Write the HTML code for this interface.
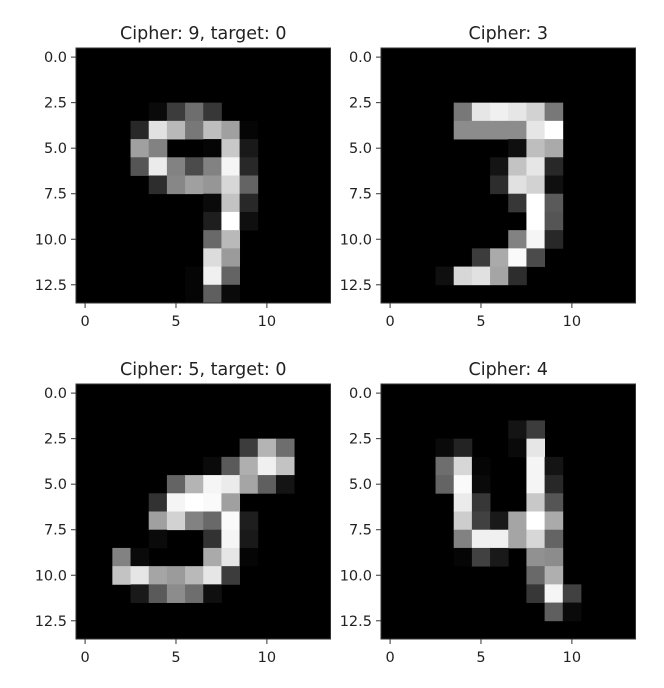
<!DOCTYPE html>
<html><head><meta charset="utf-8"><style>
body{margin:0;background:#fff}
svg{display:block}
text{font-family:"DejaVu Sans","Liberation Sans",sans-serif;fill:#222}
</style></head><body>
<svg id="fig" width="664" height="688" viewBox="0 0 664 688"></svg>
<script>
const titles = ["Cipher: 9, target: 0","Cipher: 3","Cipher: 5, target: 0","Cipher: 4"];
const yTicks = [0,2.5,5,7.5,10,12.5];
const yTickLabels = ["0.0","2.5","5.0","7.5","10.0","12.5"];
const xTicks = [0,5,10];
const xTickLabels = ["0","5","10"];
// sparse pixels: [row, col, value]
const img9 = [[3,4,10],[3,5,60],[3,6,110],[3,7,55],
[4,3,40],[4,4,225],[4,5,185],[4,6,120],[4,7,190],[4,8,160],[4,9,5],
[5,3,160],[5,4,130],[5,7,5],[5,8,200],[5,9,25],
[6,3,85],[6,4,235],[6,5,130],[6,6,75],[6,7,130],[6,8,245],[6,9,40],
[7,4,45],[7,5,135],[7,6,160],[7,7,150],[7,8,215],[7,9,100],
[8,7,10],[8,8,195],[8,9,40],[9,7,30],[9,8,255],[9,9,15],
[10,7,105],[10,8,185],[11,7,220],[11,8,155],[12,6,5],[12,7,240],[12,8,100],[13,6,5],[13,7,95],[13,8,10]];
const img3 = [[3,4,120],[3,5,230],[3,6,240],[3,7,230],[3,8,210],[3,9,120],
[4,4,140],[4,5,140],[4,6,140],[4,7,140],[4,8,230],[4,9,255],
[5,7,15],[5,8,190],[5,9,170],[6,6,20],[6,7,195],[6,8,230],[6,9,40],
[7,6,45],[7,7,225],[7,8,210],[7,9,15],[8,7,55],[8,8,255],[8,9,90],
[9,8,255],[9,9,85],[10,7,130],[10,8,245],[10,9,40],
[11,5,60],[11,6,170],[11,7,250],[11,8,75],
[12,3,15],[12,4,215],[12,5,225],[12,6,165],[12,7,45]];
const img5 = [[3,9,60],[3,10,180],[3,11,110],
[4,7,10],[4,8,90],[4,9,175],[4,10,240],[4,11,195],
[5,5,100],[5,6,180],[5,7,245],[5,8,235],[5,9,165],[5,10,95],[5,11,20],
[6,4,50],[6,5,245],[6,6,255],[6,7,250],[6,8,160],
[7,4,160],[7,5,210],[7,6,130],[7,7,105],[7,8,250],[7,9,30],
[8,4,10],[8,7,50],[8,8,245],[8,9,25],
[9,2,130],[9,3,10],[9,7,170],[9,8,230],[9,9,5],
[10,2,195],[10,3,230],[10,4,165],[10,5,155],[10,6,185],[10,7,230],[10,8,60],
[11,3,25],[11,4,90],[11,5,140],[11,6,110],[11,7,15]];
const img4 = [[2,7,20],[2,8,60],[3,3,10],[3,4,35],[3,7,10],[3,8,230],
[4,3,110],[4,4,215],[4,5,5],[4,8,245],[4,9,20],
[5,3,100],[5,4,250],[5,5,10],[5,8,245],[5,9,40],
[6,4,235],[6,5,55],[6,8,200],[6,9,85],
[7,4,205],[7,5,65],[7,6,25],[7,7,165],[7,8,255],[7,9,170],
[8,4,130],[8,5,240],[8,6,240],[8,7,165],[8,8,215],[8,9,100],
[9,4,5],[9,5,65],[9,6,25],[9,8,145],[9,9,140],
[10,8,105],[10,9,175],[11,8,55],[11,9,245],[11,10,65],[12,9,95],[12,10,10]];
const images = [img9,img3,img5,img4];
const NS="http://www.w3.org/2000/svg";
const svg=document.getElementById('fig');
const W=254.5, H=255, px=W/14, py=H/14;
const origins=[[76,48],[381,48],[76,384],[381,384]];
function el(t,a,p){const e=document.createElementNS(NS,t);for(const k in a)e.setAttribute(k,a[k]);(p||svg).appendChild(e);return e;}
const order=[1,3,0,2];
order.forEach(i=>{
  const [ox,oy]=origins[i];
  const xs=v=>ox+(v+0.5)*px, ys=v=>oy+(v+0.5)*py;
  const g=el('g',{});
  
  
  const bg=el('rect',{x:ox,y:oy,width:W,height:H,fill:'#000'},g);
  
  
  images[i].forEach(([r,c,v])=>{
    const p=el('rect',{x:ox+c*px,y:oy+r*py,width:px+0.4,height:py+0.4,fill:`rgb(${v},${v},${v})`},g);
    
    
  });
  el('rect',{x:ox,y:oy,width:W,height:H,fill:'none',stroke:'#333','stroke-width':1},g);
  const t=el('text',{x:ox+W/2,y:oy-9,'text-anchor':'middle','font-size':17.5},g);
  t.textContent=titles[i];
  
  
  yTicks.forEach((v,k)=>{
    const y=ys(v);
    el('line',{x1:ox-5,x2:ox,y1:y,y2:y,stroke:'#333'},g);
    const l=el('text',{x:ox-9,y:y+5,'text-anchor':'end','font-size':14.5},g);
    l.textContent=yTickLabels[k];
    
    
  });
  xTicks.forEach((v,k)=>{
    const x=xs(v);
    el('line',{x1:x,x2:x,y1:oy+H,y2:oy+H+5,stroke:'#333'},g);
    const l=el('text',{x:x,y:oy+H+23,'text-anchor':'middle','font-size':14.5},g);
    l.textContent=xTickLabels[k];
    
    
  });
});
</script>
</body></html>
